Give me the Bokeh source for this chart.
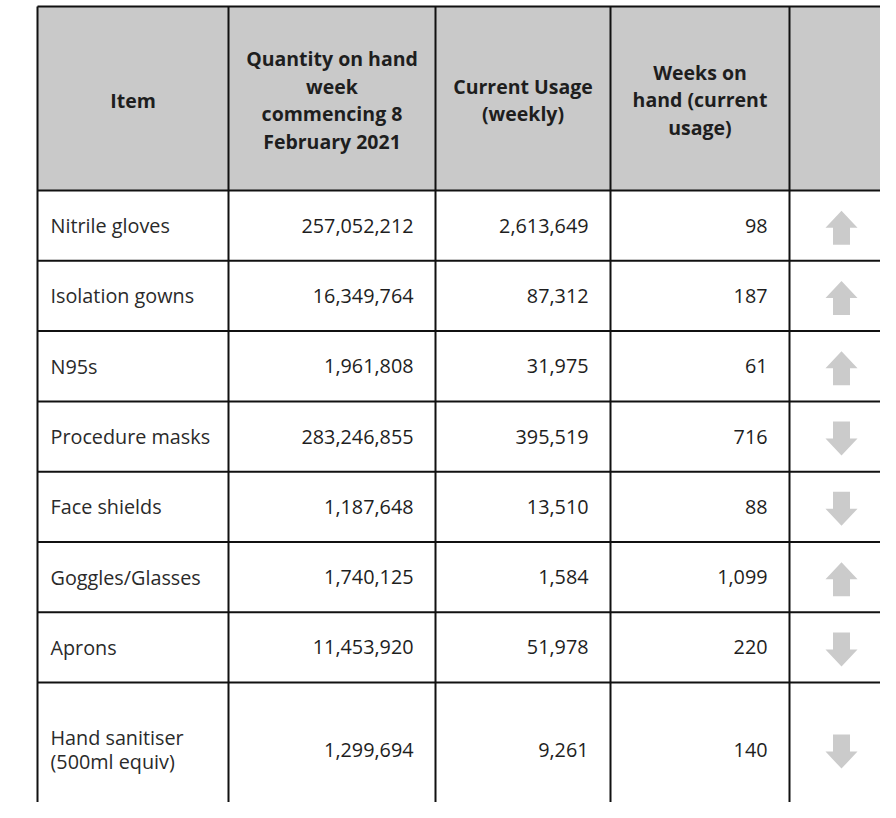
from bokeh.plotting import figure
from bokeh.models import Range1d
from bokeh.core.properties import value
from bokeh.embed import file_html
from bokeh.resources import INLINE

# ---------------- data ----------------
headers = ["Item",
           "Quantity on hand\nweek\ncommencing 8\nFebruary 2021",
           "Current Usage\n(weekly)",
           "Weeks on\nhand (current\nusage)",
           ""]
items = ["Nitrile gloves", "Isolation gowns", "N95s", "Procedure masks",
         "Face shields", "Goggles/Glasses", "Aprons", "Hand sanitiser\n(500ml equiv)"]
quantity_on_hand = [257052212, 16349764, 1961808, 283246855, 1187648, 1740125, 11453920, 1299694]
current_usage = [2613649, 87312, 31975, 395519, 13510, 1584, 51978, 9261]
weeks_on_hand = [98, 187, 61, 716, 88, 1099, 220, 140]
trend = ["up", "up", "up", "down", "down", "up", "down", "down"]

# ---------------- layout ----------------
W, H = 880, 802
col_edges = [45, 236, 443, 618, 797, 901]
header_top, header_bottom = 14, 198
row_h = 70.3
last_row_h = 134
pad_left, pad_right = 13, 22
FONT = "Open Sans"
LINE = "#111111"
GREY = "#c9c9c9"
ARROW = "#cbcbcb"
TXT = "#1e1e1e"

n = len(items)
row_tops = [header_bottom + i * row_h for i in range(n)]
row_hs = [row_h] * (n - 1) + [last_row_h]
row_centers = [t + h / 2 for t, h in zip(row_tops, row_hs)]
table_bottom = row_tops[-1] + row_hs[-1]

p = figure(width=W, height=H, x_range=Range1d(8, 8 + W), y_range=Range1d(8 + H, 8),
           output_backend="svg", toolbar_location=None, min_border=0,
           outline_line_color=None, background_fill_color="white")
p.axis.visible = False
p.grid.visible = False

# header background
p.quad(left=[col_edges[0]], right=[col_edges[-1]], top=[header_top], bottom=[header_bottom],
       fill_color=GREY, line_color=None)

# header texts
hcx = [(a + b) / 2 for a, b in zip(col_edges[:-1], col_edges[1:])]
p.text(x=hcx, y=[(header_top + header_bottom) / 2 + 1.5] * len(headers), text=headers,
       text_font=value(FONT), text_font_style="bold", text_font_size="19.5px",
       text_align="center", text_baseline="middle", text_line_height=1.025, text_color=TXT)

# body texts
p.text(x=[col_edges[0] + pad_left] * n, y=row_centers, text=items,
       text_font=value(FONT), text_font_size="19.8px", text_align="left",
       text_baseline="middle", text_line_height=0.88, text_color="#2a2a2a")

def fmt(v):
    return f"{v:,}"

for ci, vals in zip([2, 3, 4], [quantity_on_hand, current_usage, weeks_on_hand]):
    p.text(x=[col_edges[ci] - pad_right] * n, y=row_centers, text=[fmt(v) for v in vals],
           text_font=value(FONT), text_font_size="19.8px", text_align="right",
           text_baseline="middle", text_color=TXT)

# arrows
acx = (col_edges[4] + col_edges[5]) / 2
xs, ys = [], []
for t, cy in zip(trend, row_centers):
    cy = cy + 2
    s = -1 if t == "up" else 1
    hw, sw, hh = 16, 8.5, 17
    xs.append([acx, acx + hw, acx + sw, acx + sw, acx - sw, acx - sw, acx - hw])
    ys.append([cy + s * hh, cy, cy, cy - s * hh, cy - s * hh, cy, cy])
p.patches(xs=xs, ys=ys, fill_color=ARROW, line_color=None)

# grid lines
hy = [header_top, header_bottom] + row_tops[1:] + [table_bottom]
p.segment(x0=[col_edges[0]] * len(hy), x1=[col_edges[-1]] * len(hy), y0=hy, y1=hy,
          line_color=LINE, line_width=2)
p.segment(x0=col_edges, x1=col_edges, y0=[header_top] * len(col_edges),
          y1=[table_bottom] * len(col_edges), line_color=LINE, line_width=2)

open("out.html", "w").write(file_html(p, INLINE))
